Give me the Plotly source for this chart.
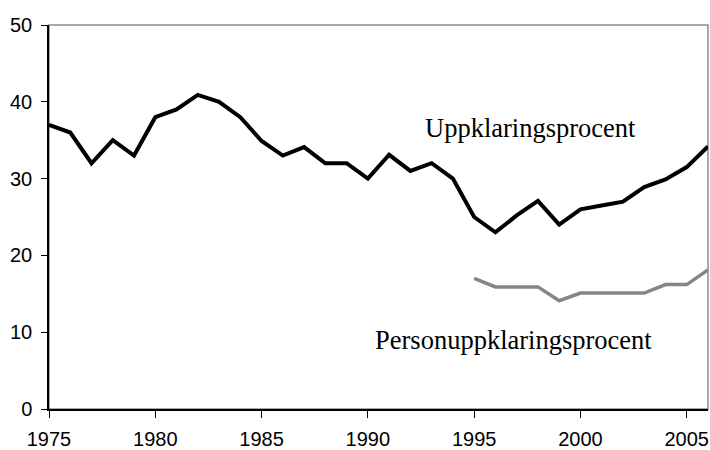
import plotly.graph_objects as go

years = list(range(1975, 2007))
uppklaring = [37, 36, 32, 35, 33, 38, 39, 40.9, 40, 38, 34.9, 33, 34.1, 32, 32, 30,
              33.1, 31, 32, 30, 25, 23, 25.2, 27.1, 24, 26, 26.5, 27, 28.9, 29.9, 31.5, 34.2]
person_years = list(range(1995, 2007))
person = [17, 15.9, 15.9, 15.9, 14.1, 15.1, 15.1, 15.1, 15.1, 16.2, 16.2, 18.1]

fig = go.Figure()
fig.add_trace(go.Scatter(x=years, y=uppklaring, mode="lines",
                         line=dict(color="black", width=4), showlegend=False))
fig.add_trace(go.Scatter(x=person_years, y=person, mode="lines",
                         line=dict(color="#858585", width=3.5), showlegend=False))

fig.add_shape(type="rect", xref="paper", yref="paper", x0=0, y0=0, x1=1, y1=1,
              line=dict(color="#8c8c8c", width=1.5), layer="below")

fig.add_annotation(x=1997.65, y=36.6, text="Uppklaringsprocent", showarrow=False,
                   xanchor="center", yanchor="middle",
                   font=dict(family="Liberation Serif", size=26.5, color="black"))
fig.add_annotation(x=1996.85, y=9.0, text="Personuppklaringsprocent", showarrow=False,
                   xanchor="center", yanchor="middle",
                   font=dict(family="Liberation Serif", size=26.5, color="black"))

fig.update_layout(
    width=710, height=450,
    margin=dict(l=49, r=2, t=25, b=41, autoexpand=False),
    paper_bgcolor="white", plot_bgcolor="white",
    font=dict(family="Liberation Sans", size=20, color="black"),
)
fig.update_xaxes(range=[1975, 2006], tickvals=[1975, 1980, 1985, 1990, 1995, 2000, 2005],
                 showgrid=False, zeroline=False, showline=True, linecolor="black", linewidth=1.5,
                 ticks="outside", ticklen=7, tickcolor="black", tickwidth=1.2,
                 ticklabelstandoff=4, automargin=False)
fig.update_yaxes(range=[0, 50], tickvals=[0, 10, 20, 30, 40, 50],
                 showgrid=False, zeroline=False, showline=True, linecolor="black", linewidth=1.5,
                 ticks="outside", ticklen=6, tickcolor="black", tickwidth=1.2,
                 ticklabelstandoff=5, automargin=False)

# remove the browser's default 8px body margin so the 710x450 figure fills the window exactly
fig.write_html("out.html", config={"displayModeBar": False},
               post_script="document.body.style.margin='0';document.body.style.overflow='hidden';")
